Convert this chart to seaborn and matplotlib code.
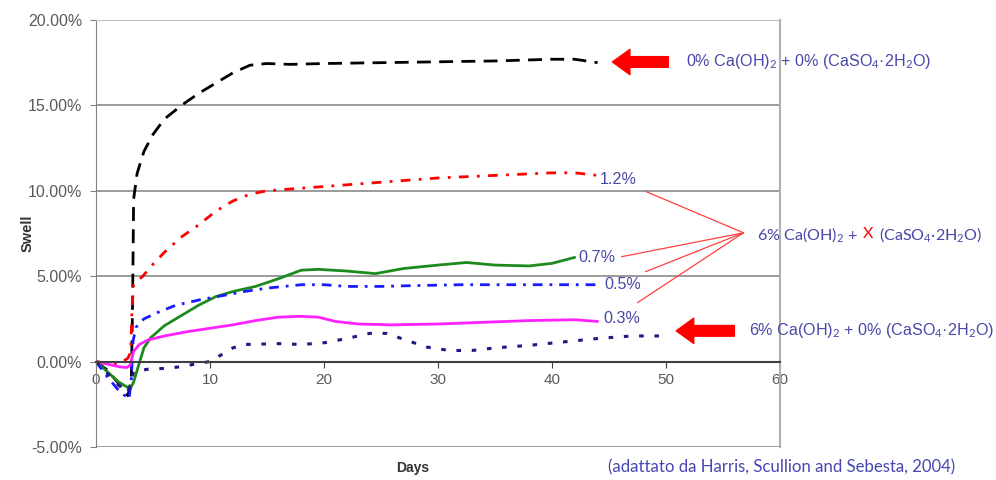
import pandas as pd
import matplotlib
matplotlib.use("Agg")
import matplotlib.pyplot as plt
import seaborn as sns
from matplotlib.ticker import FuncFormatter

# valori (giorni, rigonfiamento in %)
days_0 = [0, 1, 2, 2.8, 3.1, 3.2, 3.3, 3.6, 4.2, 5, 6, 7.5, 9, 10.5, 12, 13.5, 15, 17, 20, 25, 30, 35, 40, 42, 44]
swell_0 = [0, -0.5, -1.3, -2.0, -1.0, 3.0, 9.5, 11.0, 12.3, 13.3, 14.2, 15.0, 15.7, 16.3, 16.9, 17.35, 17.45,
           17.4, 17.45, 17.5, 17.55, 17.6, 17.7, 17.7, 17.5]

days_12 = [0, 1, 2, 2.8, 3.05, 3.15, 3.3, 4.1, 5, 6, 7.5, 9, 10.5, 12, 13.5, 15, 17, 20, 25, 30, 35, 40, 42, 44]
swell_12 = [0, -0.1, -0.15, 0.2, 0.6, 3.0, 4.5, 5.0, 5.7, 6.4, 7.3, 8.0, 8.8, 9.4, 9.8, 10.0, 10.1, 10.25,
            10.5, 10.75, 10.9, 11.05, 11.05, 10.9]

days_07 = [0, 1, 2, 3.0, 3.3, 3.7, 4.2, 4.8, 6, 7.5, 9, 10.5, 12, 14, 16, 18, 19.5, 22, 24.5, 27, 30, 32.5, 35,
           38, 40, 42]
swell_07 = [0, -0.6, -1.2, -1.6, -1.2, -0.3, 0.8, 1.4, 2.1, 2.7, 3.3, 3.8, 4.1, 4.4, 4.85, 5.35, 5.4, 5.3, 5.15,
            5.45, 5.65, 5.8, 5.65, 5.6, 5.75, 6.1]

days_05 = [0, 1, 2, 2.9, 3.1, 3.25, 3.5, 4.2, 5.5, 7, 9, 11, 13, 15, 18, 20, 22, 25, 28, 32, 36, 40, 44]
swell_05 = [0, -0.9, -1.7, -2.2, -1.0, 1.2, 2.0, 2.5, 2.9, 3.3, 3.6, 3.85, 4.1, 4.3, 4.5, 4.5, 4.4, 4.4, 4.45,
            4.5, 4.5, 4.5, 4.5]

days_03 = [0, 1, 2, 2.7, 3.0, 3.3, 3.8, 4.5, 6, 8, 10, 12, 14, 16, 18, 19.5, 21, 23, 26, 30, 34, 38, 42, 44]
swell_03 = [0, -0.15, -0.3, -0.35, -0.2, 0.6, 1.0, 1.25, 1.5, 1.75, 1.95, 2.15, 2.4, 2.6, 2.65, 2.6, 2.35, 2.2,
            2.15, 2.2, 2.3, 2.4, 2.45, 2.35]

days_lime = [0, 1, 2, 2.8, 3.1, 3.3, 4.5, 6, 7.5, 9, 10, 11, 12, 13, 16, 18, 20, 22, 24, 25.5, 27, 29, 31, 33,
             35, 38, 41, 44, 47, 50]
swell_lime = [0, -0.7, -1.4, -1.8, -1.0, -0.6, -0.45, -0.4, -0.3, -0.1, 0.0, 0.4, 0.8, 1.0, 1.05, 1.0, 1.1,
              1.35, 1.65, 1.65, 1.3, 0.85, 0.65, 0.65, 0.8, 0.95, 1.15, 1.35, 1.5, 1.5]

series = [
    (days_0, swell_0, "#000000", (0, (5, 3)), 2.0),
    (days_12, swell_12, "#ff0000", (0, (3.5, 3, 1, 3)), 2.0),
    (days_07, swell_07, "#1e8a1e", "-", 2.0),
    (days_05, swell_05, "#1a1aff", (0, (3.5, 2.5, 1, 2.5)), 2.0),
    (days_03, swell_03, "#ff22ff", "-", 2.0),
    (days_lime, swell_lime, "#1a1a80", (0, (1.5, 3.5)), 2.2),
]

sns.set_style("white")
plt.rcParams["font.family"] = ["Liberation Sans", "DejaVu Sans"]
plt.rcParams["mathtext.fontset"] = "custom"
plt.rcParams["mathtext.rm"] = "Lato"
plt.rcParams["mathtext.it"] = "Lato:italic"

fig = plt.figure(figsize=(9.96, 4.8), dpi=100)
ax = fig.add_axes([0.0964, 0.0688, 0.6867, 0.8896])

for d, s, col, ls, lw in series:
    df = pd.DataFrame({"Days": d, "Swell": s})
    sns.lineplot(data=df, x="Days", y="Swell", ax=ax, color=col, linestyle=ls,
                 linewidth=lw, estimator=None, sort=False)

ax.set_xlim(0, 60)
ax.set_ylim(-5, 20)
ax.set_xticks(range(0, 61, 10))
ax.set_yticks([-5, 0, 5, 10, 15, 20])
ax.yaxis.set_major_formatter(FuncFormatter(lambda v, _: f"{v:.2f}%"))
ax.yaxis.grid(True, color="#8a8a8a", linewidth=1.2)
ax.set_axisbelow(True)

ax.spines["bottom"].set_position(("data", 0))
ax.spines["bottom"].set_color("#404040")
ax.spines["bottom"].set_linewidth(1.5)
ax.spines["left"].set_color("#808080")
ax.spines["top"].set_color("#c0c0c0")
ax.spines["right"].set_color("#b0b0b0")
ax.spines["right"].set_linewidth(1.5)

ax.tick_params(axis="x", direction="out", length=4, color="#404040", labelcolor="#5a5a5a",
               labelsize=11, pad=4, bottom=True)
ax.tick_params(axis="y", direction="out", length=4, color="#808080", labelcolor="#5a5a5a",
               labelsize=11.5, pad=6, left=True)

ax.set_xlabel("Days", fontsize=10, fontweight="bold", color="#333333", va="center")
ax.xaxis.set_label_coords(0.463, -0.05)
ax.set_ylabel("Swell", fontsize=10.5, fontweight="bold", color="#333333", va="center")
ax.yaxis.set_label_coords(-0.1, 0.5)

txt_col = "#4848a8"
fs = 11.6
tkw = dict(fontsize=fs, color=txt_col, va="center", ha="left", annotation_clip=False)

# etichette delle curve
ax.annotate("1.2%", xy=(44.2, 10.64), **tkw)
ax.annotate("0.7%", xy=(42.3, 6.1), **tkw)
ax.annotate("0.5%", xy=(44.6, 4.5), **tkw)
ax.annotate("0.3%", xy=(44.5, 2.5), **tkw)

# frecce rosse
arrow = dict(arrowstyle="simple,head_length=0.9,head_width=1.3,tail_width=0.55",
             color="red", shrinkA=0, shrinkB=0, mutation_scale=14)
ax.annotate("", xy=(45.3, 17.54), xytext=(50.2, 17.54), arrowprops=arrow, annotation_clip=False)
ax.annotate("", xy=(50.9, 1.8), xytext=(56.0, 1.8), arrowprops=arrow, annotation_clip=False)

ax.annotate("0% Ca(OH)$_2$ + 0% (CaSO$_4$·2H$_2$O)", xy=(51.75, 17.54), **tkw)
ax.annotate("6% Ca(OH)$_2$ + 0% (CaSO$_4$·2H$_2$O)", xy=(57.3, 1.8), **tkw)

# linee sottili verso le etichette
hub = (56.8, 7.54)
for end in [(48.3, 9.94), (46.1, 6.14), (48.2, 5.26), (47.5, 3.45)]:
    ax.plot([hub[0], end[0]], [hub[1], end[1]], color="#ff4040", lw=0.9, clip_on=False)

# testo con la X rossa
fig.canvas.draw()
rend = fig.canvas.get_renderer()
inv = ax.transData.inverted()
x0, y0 = 58.0, 7.54
parts = [("6% Ca(OH)$_2$ +", txt_col), ("X", "red"), ("(CaSO$_4$·2H$_2$O)", txt_col)]
gap = 5
for text, col in parts:
    t = ax.text(x0, y0, text, fontsize=fs, color=col, va="center_baseline", ha="left", clip_on=False,
                family=["Lato", "DejaVu Sans"])
    bb = t.get_window_extent(rend)
    x0 = inv.transform((bb.x1 + gap, bb.y0))[0]

fig.text(608 / 996, 1 - 467 / 480, "(adattato da Harris, Scullion and Sebesta, 2004)",
         fontsize=12.1, color="#4646b4", va="center", ha="left", family=["Lato", "DejaVu Sans"])

fig.savefig("out.png", dpi=100)
